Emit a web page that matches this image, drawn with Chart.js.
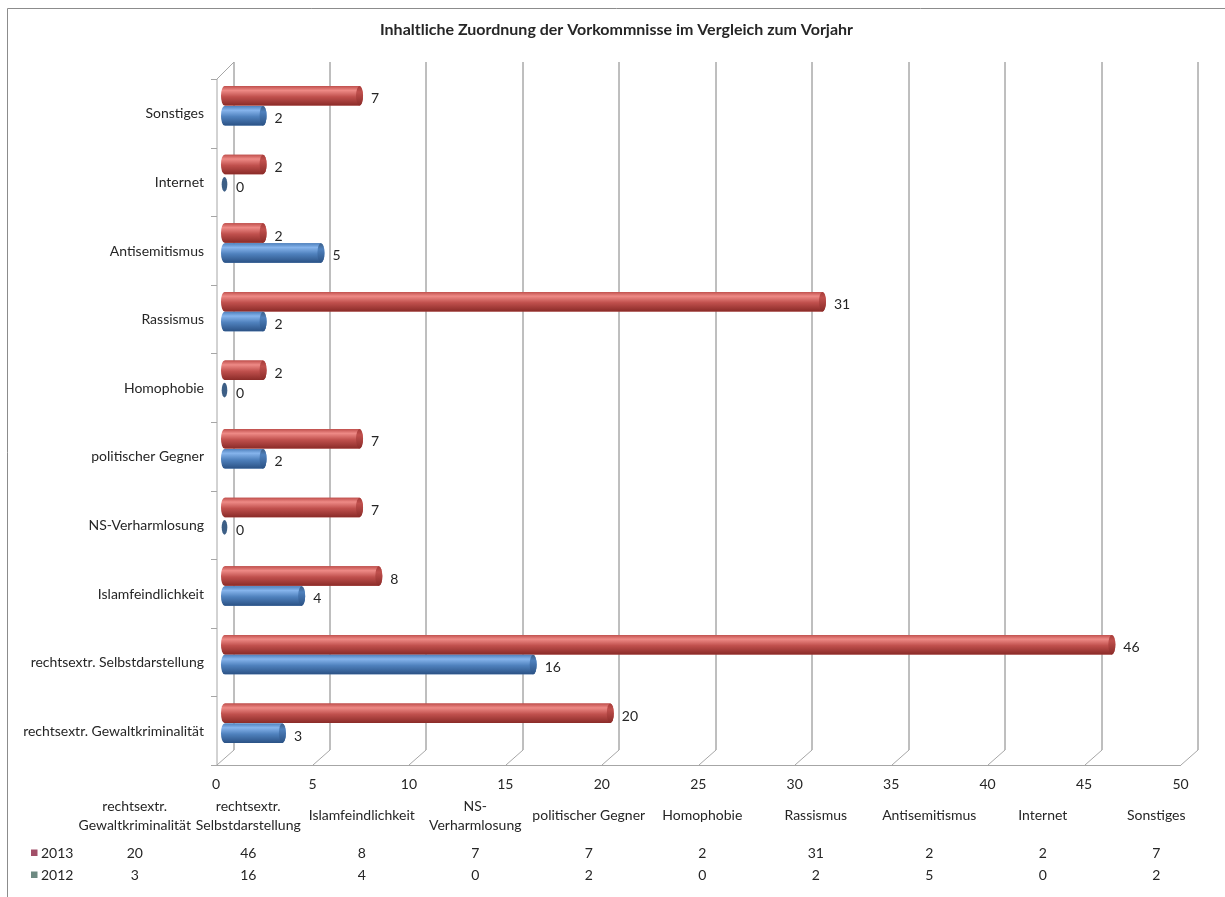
<!DOCTYPE html>
<html><head><meta charset="utf-8">
<script src="https://cdn.jsdelivr.net/npm/chart.js@4/dist/chart.umd.min.js"></script>
<style>html,body{margin:0;padding:0;background:#fff}#wrap{position:relative;width:1225px;height:897px}</style>
</head><body><div id="wrap"><canvas id="c" width="1225" height="897"></canvas></div>
<script>
const chartTitle = "Inhaltliche Zuordnung der Vorkommnisse im Vergleich zum Vorjahr";
const categories = ["rechtsextr. Gewaltkriminalität","rechtsextr. Selbstdarstellung","Islamfeindlichkeit","NS-Verharmlosung","politischer Gegner","Homophobie","Rassismus","Antisemitismus","Internet","Sonstiges"];
const tableHeaders = [["rechtsextr.","Gewaltkriminalität"],["rechtsextr.","Selbstdarstellung"],["Islamfeindlichkeit"],["NS-","Verharmlosung"],["politischer Gegner"],["Homophobie"],["Rassismus"],["Antisemitismus"],["Internet"],["Sonstiges"]];
const values2013 = [20,46,8,7,7,2,31,2,2,7];
const values2012 = [3,16,4,0,2,0,2,5,0,2];
const seriesNames = ["2013","2012"];
const xMin = 0, xMax = 50, xStep = 5;

const FONT = "Lato, 'Open Sans', sans-serif";
const TXT = "#262626";
const DX = 8.5, DY = 7.5;
const FS = 14;

const palette = {
  "2013": {base:"#C0504D", light:"#EE8A86", dark:"#8A2B28", cap:"#A63C39", key:"#A24F68"},
  "2012": {base:"#4F81BD", light:"#86B4EC", dark:"#2B5285", cap:"#3D5F86", key:"#6E8A82"}
};

const pseudo3d = {
  id: "pseudo3d",
  beforeDatasetsDraw(chart) {
    const {ctx, chartArea: a, scales: {x: xs}} = chart;
    ctx.save();
    ctx.lineWidth = 1;
    for (let v = xMin; v <= xMax; v += xStep) {
      const p = Math.round(xs.getPixelForValue(v)) + 0.5;
      ctx.strokeStyle = "#7f7f7f";
      ctx.beginPath();
      ctx.moveTo(p + DX, a.top - DY - 2);
      ctx.lineTo(p + DX, a.bottom - DY);
      ctx.stroke();
      ctx.strokeStyle = "#a6a6a6";
      ctx.beginPath();
      ctx.moveTo(p + DX, a.bottom - DY);
      ctx.lineTo(p - DX, a.bottom + DY);
      ctx.stroke();
    }
    const x0 = Math.round(xs.getPixelForValue(xMin)) + 0.5;
    const x1 = Math.round(xs.getPixelForValue(xMax)) + 0.5;
    ctx.strokeStyle = "#a6a6a6";
    ctx.beginPath();
    ctx.moveTo(x0 - DX - 6, Math.round(a.bottom + DY) + 0.5);
    ctx.lineTo(x1 - DX, Math.round(a.bottom + DY) + 0.5);
    ctx.stroke();
    ctx.beginPath();
    ctx.moveTo(x0 - DX, a.top + DY);
    ctx.lineTo(x0 - DX, a.bottom + DY);
    ctx.stroke();
    ctx.beginPath();
    ctx.moveTo(x0 - DX, a.top + DY);
    ctx.lineTo(x0 + DX, a.top - DY - 2);
    ctx.stroke();
    const n = categories.length;
    const band = (a.bottom - a.top) / n;
    for (let i = 0; i <= n; i++) {
      const yy = Math.round(a.top + i * band + DY) + 0.5;
      ctx.beginPath();
      ctx.moveTo(x0 - DX - 6, yy);
      ctx.lineTo(x0 - DX, yy);
      ctx.stroke();
    }
    ctx.restore();
  },
  afterDatasetsDraw(chart) {
    const ctx = chart.ctx;
    ctx.save();
    chart.data.datasets.forEach((ds, di) => {
      const meta = chart.getDatasetMeta(di);
      const pal = palette[ds.label];
      meta.data.forEach((el, i) => {
        const p = el.getProps(["x", "y", "base", "height"], true);
        const h = p.height, ry = h / 2, rx = Math.max(2.5, h * 0.18);
        const xs = Math.min(p.base, p.x), xe = Math.max(p.base, p.x);
        const g = ctx.createLinearGradient(0, p.y - ry, 0, p.y + ry);
        g.addColorStop(0, pal.base);
        g.addColorStop(0.22, pal.light);
        g.addColorStop(0.55, pal.base);
        g.addColorStop(1, pal.dark);
        if (xe - xs > 0.5) {
          ctx.fillStyle = g;
          ctx.beginPath();
          ctx.moveTo(xs, p.y - ry);
          ctx.lineTo(xe, p.y - ry);
          ctx.ellipse(xe, p.y, rx, ry, 0, -Math.PI / 2, Math.PI / 2);
          ctx.lineTo(xs, p.y + ry);
          ctx.ellipse(xs, p.y, rx, ry, 0, Math.PI / 2, Math.PI * 1.5);
          ctx.closePath();
          ctx.fill();
          const gc = ctx.createLinearGradient(0, p.y - ry, 0, p.y + ry);
          gc.addColorStop(0, pal.cap);
          gc.addColorStop(0.3, pal.base);
          gc.addColorStop(1, pal.dark);
          ctx.fillStyle = gc;
          ctx.beginPath();
          ctx.ellipse(xe, p.y, rx, ry, 0, 0, Math.PI * 2);
          ctx.fill();
        } else {
          ctx.fillStyle = pal.cap;
          ctx.beginPath();
          ctx.ellipse(xe, p.y, rx * 0.8, ry * 0.75, 0, 0, Math.PI * 2);
          ctx.fill();
        }
        ctx.fillStyle = TXT;
        ctx.font = FS + "px " + FONT;
        ctx.textAlign = "left";
        ctx.textBaseline = "middle";
        ctx.fillText(String(ds.data[i]), xe + rx + 8, p.y + 3);
      });
    });
    ctx.restore();
  },
  afterDraw(chart) {
    const ctx = chart.ctx;
    const W = chart.width;
    ctx.save();
    ctx.strokeStyle = "#8c8c8c";
    ctx.lineWidth = 1;
    ctx.beginPath();
    ctx.moveTo(7.5, chart.height);
    ctx.lineTo(7.5, 8.5);
    ctx.lineTo(W, 8.5);
    ctx.stroke();
    const tLeft = 78, tRight = 1213;
    const colW = (tRight - tLeft) / categories.length;
    ctx.fillStyle = TXT;
    ctx.font = FS + "px " + FONT;
    ctx.textAlign = "center";
    ctx.textBaseline = "middle";
    tableHeaders.forEach((lines, i) => {
      const cx = tLeft + colW * (i + 0.5);
      if (lines.length === 1) ctx.fillText(lines[0], cx, 815);
      else { ctx.fillText(lines[0], cx, 806); ctx.fillText(lines[1], cx, 825); }
    });
    const rows = [values2013, values2012];
    const rowY = [853, 875];
    rows.forEach((vals, r) => {
      ctx.fillStyle = TXT;
      vals.forEach((v, i) => {
        const cx = tLeft + colW * (i + 0.5);
        ctx.textAlign = "center";
        ctx.fillText(String(v), cx, rowY[r]);
      });
      ctx.fillStyle = palette[seriesNames[r]].key;
      ctx.fillRect(31, rowY[r] - 3.5, 6.5, 6.5);
      ctx.fillStyle = TXT;
      ctx.textAlign = "left";
      ctx.fillText(seriesNames[r], 41, rowY[r]);
    });
    ctx.restore();
  }
};

const yLabels = categories.slice().reverse();
const ds2013 = values2013.slice().reverse();
const ds2012 = values2012.slice().reverse();

new Chart(document.getElementById("c"), {
  type: "bar",
  data: {
    labels: yLabels,
    datasets: [
      {label: seriesNames[0], data: ds2013, backgroundColor: palette["2013"].base, borderWidth: 0},
      {label: seriesNames[1], data: ds2012, backgroundColor: palette["2012"].base, borderWidth: 0}
    ]
  },
  options: {
    indexAxis: "y",
    responsive: false,
    animation: false,
    categoryPercentage: 0.58,
    barPercentage: 0.98,
    layout: {padding: {left: 8, right: 0, top: 8, bottom: 99.5}},
    plugins: {
      legend: {display: false},
      tooltip: {enabled: false},
      title: {
        display: true, text: chartTitle, color: TXT,
        font: {family: FONT, size: 16, weight: "bold", lineHeight: 1.2},
        padding: {top: 12.4, bottom: 31.9}
      }
    },
    scales: {
      x: {
        min: xMin, max: xMax,
        grid: {display: false, drawTicks: false},
        border: {display: false},
        ticks: {stepSize: xStep, color: TXT, font: {family: FONT, size: FS}, labelOffset: -DX, padding: 19, maxRotation: 0},
        afterFit(s) { s.height = 40; }
      },
      y: {
        grid: {display: false, drawTicks: false},
        border: {display: false},
        ticks: {color: TXT, font: {family: FONT, size: FS}, labelOffset: 8, padding: 20.5, autoSkip: false},
        afterFit(s) { s.width = 224.5 - 8; }
      },
      yRight: {
        type: "linear",
        position: "right",
        display: true,
        grid: {display: false, drawTicks: false},
        border: {display: false},
        ticks: {display: false},
        afterFit(s) { s.width = 36; }
      }
    }
  },
  plugins: [pseudo3d]
});
</script>
</body></html>
